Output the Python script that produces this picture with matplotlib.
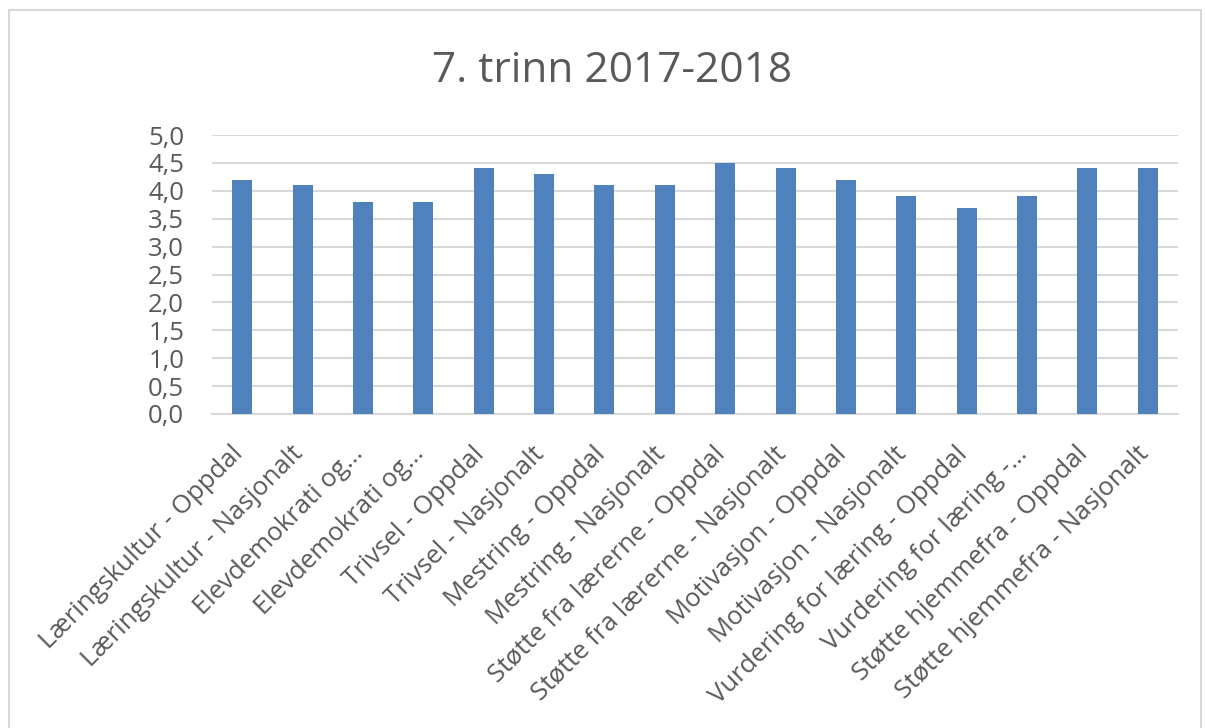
import matplotlib
matplotlib.use("Agg")
import matplotlib.pyplot as plt
import matplotlib.transforms as mtransforms
from matplotlib.patches import Rectangle

categories = [
    "Læringskultur - Oppdal", "Læringskultur - Nasjonalt",
    "Elevdemokrati og…", "Elevdemokrati og…",
    "Trivsel - Oppdal", "Trivsel - Nasjonalt",
    "Mestring - Oppdal", "Mestring - Nasjonalt",
    "Støtte fra lærerne - Oppdal", "Støtte fra lærerne - Nasjonalt",
    "Motivasjon - Oppdal", "Motivasjon - Nasjonalt",
    "Vurdering for læring - Oppdal", "Vurdering for læring -…",
    "Støtte hjemmefra - Oppdal", "Støtte hjemmefra - Nasjonalt",
]
values = [4.2, 4.1, 3.8, 3.8, 4.4, 4.3, 4.1, 4.1, 4.5, 4.4, 4.2, 3.9, 3.7, 3.9, 4.4, 4.4]
yticks = [0.0, 0.5, 1.0, 1.5, 2.0, 2.5, 3.0, 3.5, 4.0, 4.5, 5.0]
title = "7. trinn 2017-2018"

plt.rcParams['font.family'] = ['Open Sans', 'DejaVu Sans']
W, H = 1205, 728
fig = plt.figure(figsize=(W / 100, H / 100), dpi=100)
ax = fig.add_axes([212 / W, 1 - 414 / H, (1178 - 212) / W, (414 - 135) / H])

x = list(range(len(categories)))
ax.bar(x, values, width=0.33, color="#4F81BD", zorder=3)
ax.set_xlim(-0.5, len(categories) - 0.5)
ax.set_ylim(0, 5.0)
ax.set_yticks(yticks)
ax.set_yticklabels([f"{v:.1f}".replace(".", ",") for v in yticks])
ax.yaxis.grid(True, color="#D9D9D9", linewidth=1.5, zorder=0)
ax.set_axisbelow(True)
for s in ["top", "right", "left"]:
    ax.spines[s].set_visible(False)
ax.spines["bottom"].set_color("#D9D9D9")
ax.spines["bottom"].set_linewidth(1.5)
ax.tick_params(axis="both", length=0, labelsize=18.5, colors="#595959")
ax.tick_params(axis="y", pad=20)
ax.set_xticks(x)
ax.set_xticklabels(categories, rotation=45, ha="right", rotation_mode="anchor")
ax.tick_params(axis="x", pad=14)
offset = mtransforms.ScaledTranslation(-12 / 100, -8 / 100, fig.dpi_scale_trans)
for lbl in ax.get_xticklabels():
    lbl.set_transform(lbl.get_transform() + offset)

fig.text(612 / W, 1 - 71 / H, title, ha="center", va="center", fontsize=30.5, color="#595959")

fig.patches.append(Rectangle((9 / W, -0.01), (1201 - 9) / W, (H - 10) / H + 0.01,
                             transform=fig.transFigure, fill=False,
                             edgecolor="#D9D9D9", linewidth=1.5))

fig.savefig("out.png", dpi=100, facecolor="white")
